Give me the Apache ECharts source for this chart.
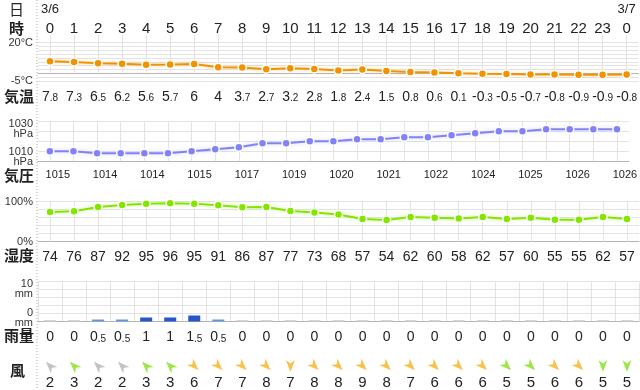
<!DOCTYPE html>
<html><head><meta charset="utf-8">
<script src="https://cdn.jsdelivr.net/npm/echarts@6/dist/echarts.min.js"></script>
<style>html,body{margin:0;padding:0;background:#fff}#c{width:640px;height:390px}</style>
</head><body><div id="c"></div>
<script>
const dates = ['3/6','','','','','','','','','','','','','','','','','','','','','','','','3/7'];
const hours = ['0','1','2','3','4','5','6','7','8','9','10','11','12','13','14','15','16','17','18','19','20','21','22','23','0'];
const temperature = [7.8,7.3,6.5,6.2,5.6,5.7,6,4,3.7,2.7,3.2,2.8,1.8,2.4,1.5,0.8,0.6,0.1,-0.3,-0.5,-0.7,-0.8,-0.9,-0.9,-0.8];
const pressure = [1015,1015,1014,1014,1014,1014,1015,1016,1017,1019,1019,1020,1020,1021,1021,1022,1022,1023,1024,1025,1025,1026,1026,1026,1026];
const humidity = [74,76,87,92,95,96,95,91,86,87,77,73,68,57,54,62,60,58,62,57,60,55,55,62,57];
const rain = [0,0,0.5,0.5,1,1,1.5,0.5,0,0,0,0,0,0,0,0,0,0,0,0,0,0,0,0,0];
const windSpeed = [2,3,2,2,3,3,6,7,7,8,7,8,8,9,8,7,6,6,6,5,5,6,6,5,5];
const windDir = ['南東','南東','南東','南東','南東','南東','北西','北西','北西','北西','北','北西','北西','北西','北西','北西','北西','北西','北西','北西','北西','北西','北西','北','北'];
const rowTitles = ['日','時','気温','気圧','湿度','雨量','風'];

const FONT = '"Liberation Sans","Noto Sans CJK JP",sans-serif';
const JFONT = '"Noto Sans CJK JP",sans-serif';
const bearing = {'北':0,'北東':45,'東':90,'南東':135,'南':180,'南西':225,'西':270,'北西':315};
function rot(d){ return -(bearing[d] + 180); }
function windColor(s){ return s < 3 ? '#b4b4b4' : (s <= 5 ? '#84e01a' : '#f5b31c'); }
function decLabel(v){
  const s = String(v);
  const k = s.indexOf('.');
  if (k < 0) return '{i|' + s + '}';
  return '{i|' + s.slice(0,k) + '}{d|' + s.slice(k) + '}';
}
const richDec = {
  i:{fontSize:14,color:'#222',fontFamily:FONT},
  d:{fontSize:10,color:'#222',fontFamily:FONT,padding:[3,0,0,0]}
};
const GRID_L = 38, GRID_R = 1;
const panels = [
  {top:42.5,height:38.5},
  {top:121.3,height:40},
  {top:201.7,height:40},
  {top:281.5,height:40},
  {top:358,height:20}
];
const gridLine = '#e3e3e3';
const axisDark = '#b4b4b4';
function vTicks(h){ return {show:true,inside:true,alignWithLabel:true,interval:0,length:h,lineStyle:{color:gridLine,width:1}}; }
const unitRich = {
  s15:{lineHeight:15,fontSize:1},
  s8:{lineHeight:8,fontSize:1},
  s7:{lineHeight:7,fontSize:1}
};
function unitAxis(grid, min, max, interval, showLines, fmt){
  return {type:'value',gridIndex:grid,min:min,max:max,interval:interval,position:'left',
    axisLine:{show:false},axisTick:{show:false},
    splitLine:{show:showLines,lineStyle:{color:gridLine}},
    axisLabel:{margin:5,fontSize:11,lineHeight:10,color:'#333',fontFamily:FONT,align:'right',formatter:fmt,rich:unitRich}};
}

const chart = echarts.init(document.getElementById('c'), null, {renderer:'canvas'});
const option = {
  animation:false,
  backgroundColor:'#fff',
  grid: panels.map(p => ({left:GRID_L,right:GRID_R,top:p.top,height:p.height,containLabel:false})),
  xAxis: [
    {type:'category',gridIndex:0,data:hours,position:'bottom',boundaryGap:true,
     axisLine:{lineStyle:{color:axisDark}},axisTick:vTicks(panels[0].height),splitLine:{show:false},
     axisLabel:{interval:0,margin:9,formatter:(v,i)=>decLabel(temperature[i]),rich:richDec}},
    {type:'category',gridIndex:0,data:hours,position:'top',boundaryGap:true,
     axisLine:{show:false},axisTick:{show:false},splitLine:{show:false},
     axisLabel:{interval:0,margin:6,fontSize:15,color:'#222',fontFamily:FONT}},
    {type:'category',gridIndex:0,data:dates,position:'top',offset:20,boundaryGap:true,
     axisLine:{show:false},axisTick:{show:false},splitLine:{show:false},
     axisLabel:{interval:0,margin:7,fontSize:13,color:'#222',fontFamily:FONT}},
    {type:'category',gridIndex:1,data:hours,position:'bottom',boundaryGap:true,
     axisLine:{lineStyle:{color:axisDark}},axisTick:vTicks(panels[1].height),splitLine:{show:false},
     axisLabel:{interval:1,margin:8,formatter:(v,i)=>'{p|' + pressure[i] + '}',
       rich:{p:{fontSize:11,color:'#222',fontFamily:FONT,padding:[0,0,0,16]}}}},
    {type:'category',gridIndex:2,data:hours,position:'bottom',boundaryGap:true,
     axisLine:{lineStyle:{color:axisDark}},axisTick:vTicks(panels[2].height),splitLine:{show:false},
     axisLabel:{interval:0,margin:8,fontSize:14,color:'#222',fontFamily:FONT,formatter:(v,i)=>String(humidity[i])}},
    {type:'category',gridIndex:3,data:hours,position:'bottom',boundaryGap:true,
     axisLine:{lineStyle:{color:axisDark}},axisTick:{show:false},
     splitLine:{show:true,interval:0,lineStyle:{color:gridLine}},
     axisLabel:{interval:0,margin:9,formatter:(v,i)=>decLabel(rain[i]),rich:richDec}},
    {type:'category',gridIndex:4,data:hours,position:'bottom',boundaryGap:true,
     axisLine:{show:false},axisTick:{show:false},splitLine:{show:false},
     axisLabel:{interval:0,margin:1,fontSize:15,color:'#222',fontFamily:FONT,formatter:(v,i)=>String(windSpeed[i])}}
  ],
  yAxis: [
    unitAxis(0,-5,20,2.5,true,v=> v===20 ? '20°C' : (v===-5 ? '-5°C' : '')),
    unitAxis(1,1010,1030,5,true,v=> v===1030 ? '{s15| }\n1030\nhPa' : (v===1010 ? '1010\nhPa\n{s8| }' : '')),
    unitAxis(2,0,100,20,true,v=> v===100 ? '100%' : (v===0 ? '0%' : '')),
    unitAxis(3,0,10,2,true,v=> v===10 ? '{s15| }\n10\nmm' : (v===0 ? '0\nmm\n{s7| }' : '')),
    {type:'value',gridIndex:4,min:-1,max:1,show:false}
  ],
  series: [
    {type:'line',xAxisIndex:0,yAxisIndex:0,data:temperature,symbol:'circle',symbolSize:8,
     lineStyle:{color:'#f39200',width:2,shadowColor:'rgba(243,146,0,0.35)',shadowBlur:4},
     itemStyle:{color:'#f39200',borderColor:'#fff',borderWidth:1.5}},
    {type:'line',xAxisIndex:3,yAxisIndex:1,data:pressure,symbol:'circle',symbolSize:8,
     lineStyle:{color:'#8282f8',width:2,shadowColor:'rgba(130,130,248,0.35)',shadowBlur:4},
     itemStyle:{color:'#8282f8',borderColor:'#fff',borderWidth:1.5}},
    {type:'line',xAxisIndex:4,yAxisIndex:2,data:humidity,symbol:'circle',symbolSize:8,
     lineStyle:{color:'#84e600',width:2,shadowColor:'rgba(132,230,0,0.35)',shadowBlur:4},
     itemStyle:{color:'#84e600',borderColor:'#fff',borderWidth:1.5}},
    {type:'bar',xAxisIndex:5,yAxisIndex:3,barWidth:12,barMinHeight:1.5,
     data:rain.map(v=>({value:v,itemStyle:{color: v===0 ? '#d6d6d6' : (v<1 ? '#6a94da' : '#2557c8')}}))},
    {type:'scatter',xAxisIndex:6,yAxisIndex:4,symbol:'path://M0,0 L5,14 L0,10 L-5,14 Z',symbolSize:[9,12],
     data:windSpeed.map((s,i)=>({value:[i,0],symbolRotate:rot(windDir[i]),itemStyle:{color:windColor(s)}}))}
  ],
  graphic: [
    {type:'line',shape:{x1:37,y1:0,x2:37,y2:390},style:{stroke:'#aaa',lineWidth:1,lineDash:[1,2]},z:10},
    {type:'text',left:9,top:2,style:{text:rowTitles[0],font:'15px '+JFONT,fill:'#222'}},
    {type:'text',left:9,top:21,style:{text:rowTitles[1],font:'bold 15px '+JFONT,fill:'#222'}},
    {type:'text',left:4,top:89,style:{text:rowTitles[2],font:'bold 15px '+JFONT,fill:'#222'}},
    {type:'text',left:4,top:168,style:{text:rowTitles[3],font:'bold 15px '+JFONT,fill:'#222'}},
    {type:'text',left:4,top:248,style:{text:rowTitles[4],font:'bold 15px '+JFONT,fill:'#222'}},
    {type:'text',left:4,top:328,style:{text:rowTitles[5],font:'bold 15px '+JFONT,fill:'#222'}},
    {type:'text',left:10,top:363,style:{text:rowTitles[6],font:'bold 15px '+JFONT,fill:'#222'}}
  ]
};
chart.setOption(option);
</script>
</body></html>
